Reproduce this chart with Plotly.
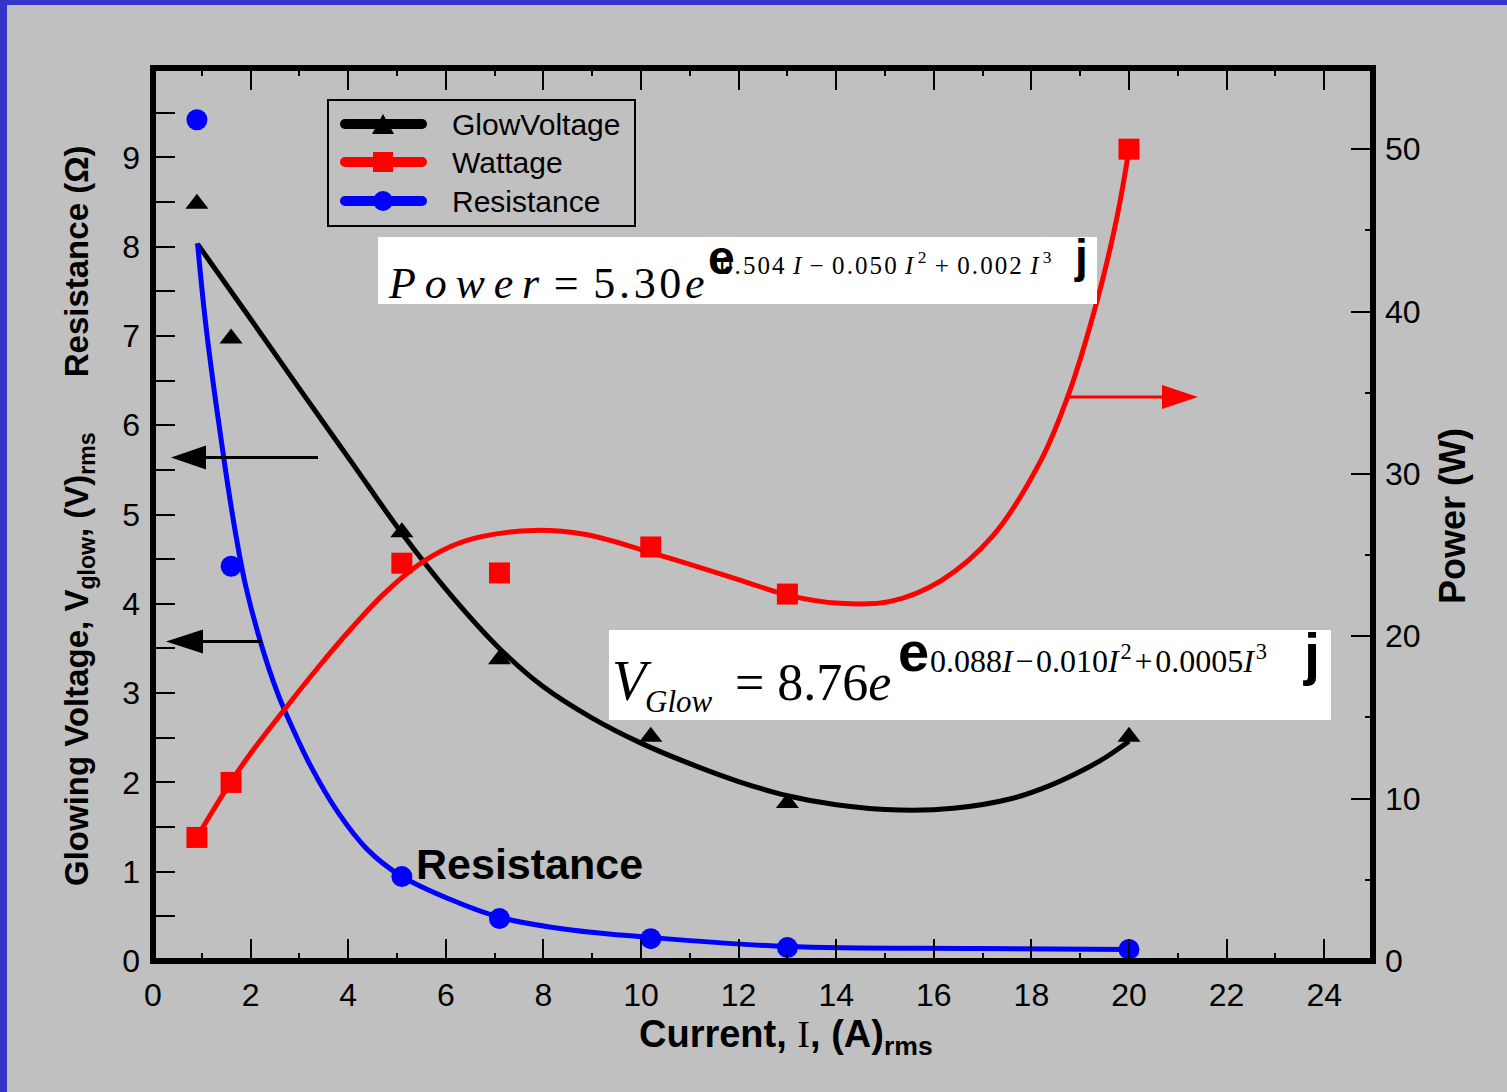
import plotly.graph_objects as go

# ---------------- data ----------------
current = [0.9, 1.6, 5.1, 7.1, 10.2, 13.0, 20.0]
glow_voltage = [8.48, 6.97, 4.80, 3.38, 2.51, 1.77, 2.51]
wattage = [7.61, 11.0, 24.5, 23.9, 25.5, 22.6, 50.0]
resistance = [9.42, 4.42, 0.945, 0.475, 0.25, 0.15, 0.13]

# fitted trend lines, sampled along the curves
vfit_i = [0.91, 2.0, 3.0, 4.05, 5.1, 6.1, 7.1, 8.0, 9.0, 10.0, 11.0, 12.0, 13.0, 14.0, 15.3, 16.4, 17.6, 18.4, 19.1, 19.55, 20.0]
vfit_v = [8.03, 7.19, 6.41, 5.60, 4.79, 4.10, 3.50, 3.07, 2.72, 2.44, 2.21, 2.01, 1.85, 1.75, 1.69, 1.71, 1.82, 1.97, 2.15, 2.29, 2.46]

pfit_i = [0.91, 1.59, 2.0, 2.76, 3.37, 4.05, 4.72, 5.42, 6.10, 6.75, 7.80, 8.84, 10.19, 11.98, 13.02, 14.07, 15.11, 16.16, 17.2, 18.19, 18.75, 19.35, 19.76, 20.0]
pfit_p = [7.67, 11.00, 12.78, 15.74, 18.03, 20.43, 22.58, 24.36, 25.53, 26.15, 26.52, 26.28, 25.17, 23.51, 22.52, 22.03, 22.15, 23.45, 26.15, 30.8, 34.8, 40.7, 45.9, 50.0]

rfit_i = [0.912, 1.076, 1.281, 1.486, 1.691, 1.895, 2.203, 2.551, 2.818, 3.227, 3.781, 4.395, 5.072, 6.096, 7.121, 8.494, 10.195, 13.0, 16.895, 19.99]
rfit_r = [8.037, 7.153, 6.281, 5.498, 4.793, 4.211, 3.573, 3.003, 2.657, 2.187, 1.672, 1.247, 0.956, 0.688, 0.487, 0.352, 0.263, 0.162, 0.140, 0.129]

x_ticks = list(range(0, 25, 2))
left_ticks = list(range(0, 10))
right_ticks = [0, 10, 20, 30, 40, 50]

# ---------------- layout geometry ----------------
W_PAGE, H_PAGE = 1507, 1092
L, T, W, H = 153, 68, 1220, 893


def PX(x):
    return (x - L) / W


def PY(y):
    return (T + H - y) / H


SANS = "Arial, Liberation Sans, sans-serif"
SERIF = "Times New Roman, Liberation Serif, serif"
BG = "#c0c0c0"

fig = go.Figure()

curve_line = dict(width=5, shape="spline", smoothing=1.0)

# fitted curves
fig.add_trace(go.Scatter(x=vfit_i, y=vfit_v, mode="lines", line=dict(color="black", **curve_line),
                         showlegend=False, hoverinfo="skip"))
fig.add_trace(go.Scatter(x=rfit_i, y=rfit_r, mode="lines", line=dict(color="#0000ff", **curve_line),
                         showlegend=False, hoverinfo="skip"))
fig.add_trace(go.Scatter(x=pfit_i, y=pfit_p, mode="lines", yaxis="y2", line=dict(color="#ff0000", **curve_line),
                         showlegend=False, hoverinfo="skip"))

# measured points
fig.add_trace(go.Scatter(x=current, y=glow_voltage, mode="markers", name="GlowVoltage",
                         marker=dict(symbol="triangle-up", size=20, color="black", line=dict(width=0)), showlegend=False))
fig.add_trace(go.Scatter(x=current, y=resistance, mode="markers", name="Resistance",
                         marker=dict(symbol="circle", size=21, color="#0000ff", line=dict(width=0)), showlegend=False))
fig.add_trace(go.Scatter(x=current, y=wattage, mode="markers", name="Wattage", yaxis="y2",
                         marker=dict(symbol="square", size=21, color="#ff0000", line=dict(width=0)), showlegend=False))

shapes = []
annotations = []

# blue page frame (top and left strips)
shapes.append(dict(type="rect", xref="paper", yref="paper", x0=PX(0), x1=PX(W_PAGE), y0=PY(0), y1=PY(5),
                   fillcolor="#3434c8", line=dict(width=0), layer="above"))
shapes.append(dict(type="rect", xref="paper", yref="paper", x0=PX(0), x1=PX(7), y0=PY(0), y1=PY(H_PAGE),
                   fillcolor="#3434c8", line=dict(width=0), layer="above"))

# heavy plot frame
shapes.append(dict(type="rect", xref="paper", yref="paper", x0=0, x1=1, y0=0, y1=1,
                   line=dict(color="black", width=6), fillcolor="rgba(0,0,0,0)", layer="above"))

# legend box
shapes.append(dict(type="rect", xref="paper", yref="paper", x0=PX(328), x1=PX(635), y0=PY(226), y1=PY(100),
                   line=dict(color="black", width=2), fillcolor="rgba(0,0,0,0)", layer="above"))
legend_rows = [("GlowVoltage", "black", 124), ("Wattage", "#ff0000", 162), ("Resistance", "#0000ff", 201)]
for label, col, yy in legend_rows:
    shapes.append(dict(type="line", xref="paper", yref="paper", x0=PX(345), x1=PX(422), y0=PY(yy), y1=PY(yy),
                       line=dict(color=col, width=10), layer="above"))
    # rounded line caps
    for cx in (345, 422):
        shapes.append(dict(type="circle", xref="paper", yref="paper", x0=PX(cx - 5), x1=PX(cx + 5),
                           y0=PY(yy + 5), y1=PY(yy - 5), fillcolor=col, line=dict(width=0), layer="above"))
    annotations.append(dict(text=label, x=PX(450), y=PY(yy), xref="paper", yref="paper", xanchor="left", yanchor="middle",
                            showarrow=False, font=dict(family=SANS, size=30, color="black")))
# legend glyphs
shapes.append(dict(type="path", xref="paper", yref="paper",
                   path=f"M{PX(372)},{PY(134)} L{PX(394)},{PY(134)} L{PX(383)},{PY(114)} Z",
                   fillcolor="black", line=dict(width=0), layer="above"))
shapes.append(dict(type="rect", xref="paper", yref="paper", x0=PX(373), x1=PX(393), y0=PY(172), y1=PY(152),
                   fillcolor="#ff0000", line=dict(width=0), layer="above"))
shapes.append(dict(type="circle", xref="paper", yref="paper", x0=PX(373), x1=PX(393), y0=PY(211), y1=PY(191),
                   fillcolor="#0000ff", line=dict(width=0), layer="above"))

# equation boxes
shapes.append(dict(type="rect", xref="paper", yref="paper", x0=PX(378), x1=PX(1097), y0=PY(304), y1=PY(237),
                   fillcolor="white", line=dict(width=0), layer="above"))
shapes.append(dict(type="rect", xref="paper", yref="paper", x0=PX(609), x1=PX(1331), y0=PY(720), y1=PY(630),
                   fillcolor="white", line=dict(width=0), layer="above"))


def arrow(x_tail, x_base, x_tip, yy, col):
    shapes.append(dict(type="line", xref="paper", yref="paper", x0=PX(x_tail), x1=PX(x_base), y0=PY(yy), y1=PY(yy),
                       line=dict(color=col, width=3), layer="above"))
    shapes.append(dict(type="path", xref="paper", yref="paper",
                       path=f"M{PX(x_base)},{PY(yy - 12)} L{PX(x_tip)},{PY(yy)} L{PX(x_base)},{PY(yy + 12)} Z",
                       fillcolor=col, line=dict(width=0), layer="above"))


arrow(318, 206, 171, 457.5, "black")
arrow(262, 203, 166, 641.5, "black")
arrow(1070, 1162, 1198, 397, "#ff0000")


def note(text, x, y, size, family=SANS, color="black", xanchor="left", angle=0):
    annotations.append(dict(text=text, x=PX(x), y=PY(y), xref="paper", yref="paper", xanchor=xanchor, yanchor="middle",
                            showarrow=False, textangle=angle, font=dict(family=family, size=size, color=color)))


# power fit equation
hs = "\u200a"
ts = "\u2009"
note(f"<i>P{ts}o{ts}w{ts}e{ts}r</i> {hs}={hs} 5{hs}.{hs}3{hs}0{hs}<i>e</i>", 386, 283, 44, SERIF)
note(f"0{hs}.{hs}5{hs}0{hs}4{hs} <i>I</i> {hs}\u2212{hs} 0{hs}.{hs}0{hs}5{hs}0{hs} <i>I</i><sup> 2</sup> {hs}+{hs} 0{hs}.{hs}0{hs}0{hs}2{hs} <i>I</i><sup> 3</sup>",
     718, 263, 25, SERIF)
note("<b>e</b>", 706, 257, 48)
note("<b>j</b>", 1072, 256, 46)

# glow voltage fit equation
note("<i>V</i>", 610, 681, 56, SERIF)
note("<i>Glow</i>", 643, 701, 31, SERIF)
note("= 8.76<i>e</i>", 733, 682, 52, SERIF)
note(f"0.088<i>I</i>{hs}\u2212{hs}0.010<i>I</i><sup>{hs}2</sup>{hs}+{hs}0.0005<i>I</i><sup>{hs}3</sup>", 928, 659, 32, SERIF)
note("<b>e</b>", 896, 651, 56)
note("<b>j</b>", 1301, 654, 58)

# inline label
note("<b>Resistance</b>", 414, 864, 43)

# axis titles
note("<b>Glowing Voltage, V<sub>glow</sub>, (V)<sub>rms</sub></b>" + "\u00a0" * 6 + "<b>Resistance (\u03a9)</b>",
     79, 516, 33, xanchor="center", angle=-90)
note("<b>Power (W)</b>", 1452, 516, 36, xanchor="center", angle=-90)
note("<b>Current, </b><span style=\"font-family:'Times New Roman','Liberation Serif',serif\">I</span><b>, (A)<sub>rms</sub></b>",
     786, 1037, 38, xanchor="center")

tick_font = dict(family=SANS, size=32, color="black")

fig.update_layout(
    width=W_PAGE, height=H_PAGE,
    margin=dict(l=L, r=W_PAGE - L - W, t=T, b=H_PAGE - T - H, pad=0),
    paper_bgcolor=BG, plot_bgcolor=BG,
    showlegend=False,
    shapes=shapes, annotations=annotations,
    xaxis=dict(range=[0, 25], tickvals=x_ticks, ticks="inside", ticklen=22, tickwidth=2, tickcolor="black",
               minor=dict(dtick=1, tick0=0, ticks="inside", ticklen=8, tickwidth=2, tickcolor="black"),
               mirror="ticks", showline=False, showgrid=False, zeroline=False, tickfont=tick_font,
               ticklabelstandoff=12),
    yaxis=dict(range=[0, 10], tickvals=left_ticks, ticks="inside", ticklen=22, tickwidth=2, tickcolor="black",
               minor=dict(dtick=0.5, tick0=0, ticks="inside", ticklen=22, tickwidth=2, tickcolor="black"),
               showline=False, showgrid=False, zeroline=False, tickfont=tick_font, ticklabelstandoff=12),
    yaxis2=dict(range=[0, 55], tickvals=right_ticks, overlaying="y", side="right", ticks="inside", ticklen=22,
                tickwidth=2, tickcolor="black",
                minor=dict(dtick=5, tick0=0, ticks="inside", ticklen=8, tickwidth=2, tickcolor="black"),
                showline=False, showgrid=False, zeroline=False, tickfont=tick_font, ticklabelstandoff=11),
)

fig.write_html("out.html")
